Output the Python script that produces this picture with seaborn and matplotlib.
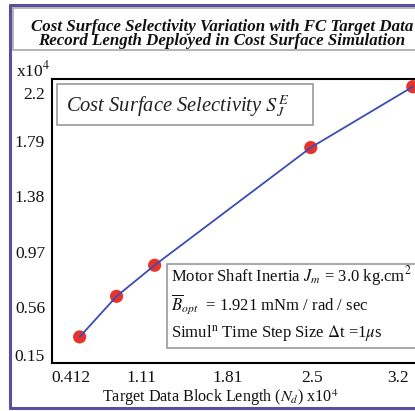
import numpy as np
import pandas as pd
import matplotlib
matplotlib.use("Agg")
import matplotlib.pyplot as plt
from matplotlib.patches import Rectangle
from matplotlib.lines import Line2D
from matplotlib.transforms import ScaledTranslation
import seaborn as sns

# Data block length (x10^4) and cost surface selectivity (x10^4)
block_length = [0.48, 0.78, 1.09, 2.36, 3.19]
selectivity = [0.34, 0.64, 0.87, 1.74, 2.19]

x_tick_values = [0.412, 1.11, 1.81, 2.5, 3.2]
x_tick_labels = ["0.412", "1.11", "1.81", "2.5", "3.2"]
y_tick_values = [2.2, 1.79, 1.38, 0.97, 0.56, 0.15]
y_tick_labels = ["2.2", "1.79", "1.38", "0.97", "0.56", "0.15"]

title_lines = ["Cost Surface Selectivity Variation with FC Target Data",
               "Record Length Deployed in Cost Surface Simulation"]

sns.set_theme(style="white")
plt.rcParams["font.family"] = ["Liberation Serif", "DejaVu Serif"]
plt.rcParams["mathtext.fontset"] = "stix"

W, H = 415, 411
fig = plt.figure(figsize=(W / 100, H / 100), dpi=100)

def fx(px):
    return px / W

def fy(py):
    return 1 - py / H

# axes placed in pixel terms; the right edge runs past the figure
left_px, right_px, top_px, bottom_px = 52, 430, 79, 363
ax = fig.add_axes([fx(left_px), fy(bottom_px), fx(right_px - left_px),
                   (bottom_px - top_px) / H])

df = pd.DataFrame({"length": block_length, "sel": selectivity})
sns.scatterplot(data=df, x="length", y="sel", ax=ax, s=90, color="#e8332b",
                edgecolor="none", zorder=2, legend=False)
sns.lineplot(data=df, x="length", y="sel", ax=ax, color="#3a4db2",
             linewidth=1.3, zorder=3)

ax.set_xlim(0.255, 3.33)
ax.set_ylim(0.147, 2.247)

for side in ["left", "bottom", "top"]:
    ax.spines[side].set_visible(True)
    ax.spines[side].set_color("black")
    ax.spines[side].set_linewidth(1.5)
ax.spines["right"].set_visible(False)

ax.set_xticks(x_tick_values, x_tick_labels)
ax.set_yticks(y_tick_values, y_tick_labels)
ax.tick_params(axis="both", direction="in", length=9.5, width=1.1,
               color="black", labelsize=12.5, labelcolor="#111111")
ax.tick_params(axis="x", pad=5)
ax.tick_params(axis="y", pad=5)

# first x label has no tick mark; the others sit a little left of their ticks
for i, tick in enumerate(ax.xaxis.get_major_ticks()):
    if i == 0:
        tick.tick1line.set_visible(False)
    else:
        lab = tick.label1
        lab.set_transform(lab.get_transform()
                          + ScaledTranslation(-16 / 100, 0, fig.dpi_scale_trans))
# end y labels are nudged inward
yticks = ax.yaxis.get_major_ticks()
for i, tick in enumerate(yticks):
    if i in (0, len(yticks) - 1):
        tick.tick1line.set_visible(False)
    lab = tick.label1
    if i == 0:
        lab.set_transform(lab.get_transform()
                          + ScaledTranslation(0, -8 / 100, fig.dpi_scale_trans))
    if i == len(yticks) - 1:
        lab.set_transform(lab.get_transform()
                          + ScaledTranslation(0, 8 / 100, fig.dpi_scale_trans))

ax.set_xlabel(r"Target Data Block Length ($N_d$) x10$^4$", fontsize=11.6,
              color="#111111")
ax.set_ylabel("")
ax.xaxis.set_label_coords((220 - left_px) / (right_px - left_px),
                          -(398 - bottom_px) / (bottom_px - top_px))
ax.xaxis.label.set_va("center")

fig.text(fx(16), fy(70), r"x10$^4$", fontsize=12.5, ha="left", va="center",
         color="#111111")

# legend-style caption box
ax.add_patch(Rectangle((fx(57), fy(125)), fx(313 - 57), (125 - 84) / H,
                       transform=fig.transFigure, facecolor="white",
                       edgecolor="#9a9a9a", linewidth=1.2, zorder=5))
fig.text(fx(66), fy(106), r"Cost Surface Selectivity $S_J^E$",
         fontsize=14.8, style="italic", ha="left", va="center", zorder=6,
         color="#222222")

# simulation parameter box
ax.add_patch(Rectangle((fx(167), fy(348)), fx(440 - 167), (348 - 264) / H,
                       transform=fig.transFigure, facecolor="white",
                       edgecolor="#9a9a9a", linewidth=1.2, zorder=5,
                       clip_on=False))
params = [r"Motor Shaft Inertia $J_m$ = 3.0 kg.cm$^2$",
          r"$\overline{B}_{opt}$  = 1.921 mNm / rad / sec",
          r"Simul$^{\rm n}$ Time Step Size $\Delta$t =1$\mu$s"]
for txt, ypx in zip(params, [276, 304, 334]):
    fig.text(fx(171), fy(ypx), txt, fontsize=12, ha="left", va="center",
             zorder=6, color="#111111")

# title panel
fig.patches.append(Rectangle((fx(13), fy(50)), fx(440 - 13), 42 / H,
                             transform=fig.transFigure, facecolor="white",
                             edgecolor="#a8a8a8", linewidth=1.2))
fig.text(fx(222), fy(34), "\n".join(title_lines), fontsize=12.2,
         fontweight="bold", style="italic", ha="center", va="center",
         linespacing=0.85, color="#111111")

# outer frame
frame_color = "#5a4f9f"
for xs, ys in [([10, 10], [5, 408]), ([10, 415], [5, 5]),
               ([10, 415], [408, 408])]:
    fig.lines.append(Line2D([fx(v) for v in xs], [fy(v) for v in ys],
                            transform=fig.transFigure, color=frame_color,
                            linewidth=2.2))

fig.savefig("out.png", dpi=100)
